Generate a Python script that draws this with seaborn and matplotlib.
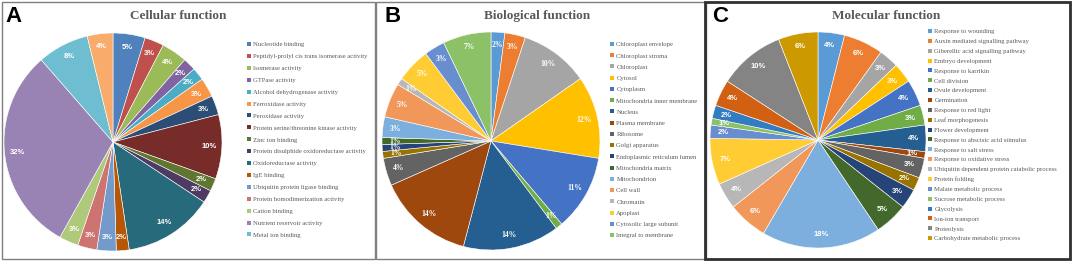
import matplotlib
matplotlib.use("Agg")
import matplotlib.pyplot as plt
import seaborn as sns
from matplotlib.patches import Rectangle, Patch

# Data: percentages (clockwise from 12 o'clock)
cell_labels = [
    "Nucleotide binding", "Peptidyl-prolyl cis trans isomerase activity",
    "Isomerase activity", "GTPase activity", "Alcohol dehydrogenase activity",
    "Ferroxidase activity", "Peroxidase activity",
    "Protein serine/threonine kinase activity", "Zinc ion binding",
    "Protein disulphide oxidoreductase activity", "Oxidoreductase activity",
    "IgE binding", "Ubiquitin protein ligase binding",
    "Protein homodimerization activity", "Cation binding",
    "Nutrient reservoir activity", "Metal ion binding",
]
# last slice (4%) has no legend entry in the original
cell_values = [5, 3, 4, 2, 2, 3, 3, 10, 2, 2, 14, 2, 3, 3, 3, 32, 8, 4]

bio_labels = [
    "Chloroplast envelope", "Chloroplast stroma", "Chloroplast", "Cytosol",
    "Cytoplasm", "Mitochondria inner membrane", "Nucleus", "Plasma membrane",
    "Ribosome", "Golgi apparatus", "Endoplasmic reticulum lumen",
    "Mitochondria matrix", "Mitochondrion", "Cell wall", "Chromatin",
    "Apoplast", "Cytosolic large subunit", "Integral to membrane",
]
bio_values = [2, 3, 10, 12, 11, 1, 14, 14, 4, 1, 1, 1, 3, 5, 1, 5, 3, 7]

mol_labels = [
    "Response to wounding", "Auxin mediated signalling pathway",
    "Giberellic acid signalling pathway", "Embryo development",
    "Response to karrikin", "Cell division", "Ovule development",
    "Germination", "Response to red light", "Leaf morphogenesis",
    "Flower development", "Response to abscisic acid stimulus",
    "Response to salt stress", "Response to oxidative stress",
    "Ubiquitin dependent protein catabolic process", "Protein folding",
    "Malate metabolic process", "Sucrose metabolic process", "Glycolysis",
    "Ion-ion transport", "Proteolysis", "Carbohydrate metabolic process",
]
mol_values = [4, 6, 3, 3, 4, 3, 4, 1, 3, 2, 3, 5, 18, 6, 4, 7, 2, 1, 2, 4, 10, 6]

# Office style palettes
office07 = sns.color_palette([
    "#4F81BD", "#C0504D", "#9BBB59", "#8064A2", "#4BACC6", "#F79646",
    "#2C4D75", "#772C2A", "#5F7530", "#4D3B62", "#276A7C", "#B65708",
    "#729ACA", "#CD7371", "#AFC97A", "#9983B5", "#6FBDD1", "#F9AB6B",
])
office13 = sns.color_palette([
    "#5B9BD5", "#ED7D31", "#A5A5A5", "#FFC000", "#4472C4", "#70AD47",
    "#255E91", "#9E480E", "#636363", "#997300", "#264478", "#43682B",
    "#7CAFDD", "#F1975A", "#B7B7B7", "#FFCD33", "#698ED0", "#8CC168",
    "#327DC2", "#D26012", "#848484", "#CC9A00",
])

sns.set_theme(style="white")
W, H = 1072, 261
fig = plt.figure(figsize=(W / 100, H / 100), dpi=100)
fig.patch.set_facecolor("white")

def px(x, y):
    return x / W, 1 - y / H

# panel frames
for x0, x1, col, lw in [(2, 375, "#7f7f7f", 1.0), (376, 706, "#7f7f7f", 1.0), (705, 1070, "#303030", 2.0)]:
    fig.add_artist(Rectangle((x0 / W, 2 / H), (x1 - x0) / W, (H - 4) / H,
                             transform=fig.transFigure, fill=False,
                             edgecolor=col, linewidth=lw))

def draw_pie(cx, cy, r, values, colors, lab_font, labdist):
    ax = fig.add_axes([(cx - r) / W, (H - cy - r) / H, 2 * r / W, 2 * r / H])
    wedges, texts = ax.pie(values, colors=colors[:len(values)], startangle=90,
                           counterclock=False, labels=[f"{v}%" for v in values],
                           labeldistance=labdist,
                           wedgeprops=dict(linewidth=0.4, edgecolor="white"),
                           textprops=dict(color="white", fontsize=5.5,
                                          fontweight="bold", family=lab_font))
    for t in texts:
        t.set_ha("center")
        t.set_va("center")
    ax.set_xlim(-1, 1)
    ax.set_ylim(-1, 1)
    ax.axis("off")
    return wedges

def draw_legend(wedges, labels, x, y, spacing):
    handles = [Patch(facecolor=w.get_facecolor(), edgecolor="none") for w in wedges[:len(labels)]]
    leg = fig.legend(handles, labels, loc="upper left", bbox_to_anchor=px(x, y),
                     frameon=False, handlelength=0.55, handleheight=0.55,
                     handletextpad=0.4, labelspacing=spacing, borderpad=0,
                     borderaxespad=0, prop=dict(family="Liberation Serif", size=4.8))
    for t in leg.get_texts():
        t.set_color("#595959")

wA = draw_pie(113, 142, 109, cell_values, office07, "Liberation Sans", 0.88)
wB = draw_pie(491, 141, 109, bio_values, office13, "Liberation Serif", 0.88)
wC = draw_pie(818, 140, 108, mol_values, office13, "Liberation Sans", 0.88)

draw_legend(wA, cell_labels, 247, 42, 0.98)
draw_legend(wB, bio_labels, 610, 42, 0.88)
draw_legend(wC, mol_labels, 928, 29, 0.67)

# panel letters and titles
for x, letter in [(14, "A"), (393, "B"), (720, "C")]:
    fig.text(*px(x, 17), letter, fontsize=16, fontweight="bold",
             family="Liberation Sans", color="black", ha="center", va="center")
for x, title in [(178, "Cellular function"), (537, "Biological function"), (886, "Molecular function")]:
    fig.text(*px(x, 16), title, fontsize=9.5, fontweight="bold",
             family="Liberation Serif", color="#595959", ha="center", va="center")

fig.savefig("out.png", dpi=100)
